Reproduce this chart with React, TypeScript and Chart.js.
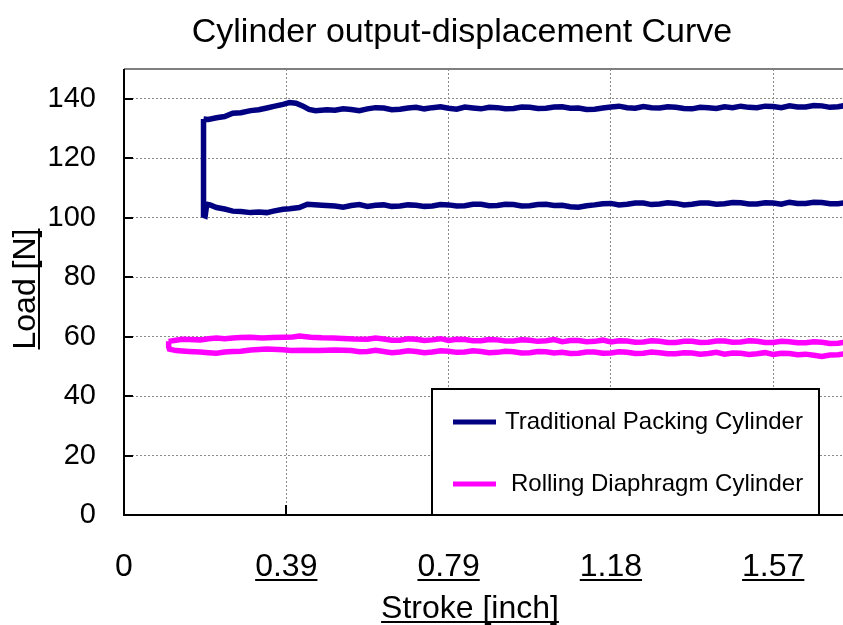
import { useEffect, useRef } from 'react';
import { Chart, registerables } from 'chart.js';

Chart.register(...registerables);

const chartTitle = 'Cylinder output-displacement Curve';
const xAxisTitle = 'Stroke [inch]';
const yAxisTitle = 'Load [N]';
const seriesNames = ['Traditional Packing Cylinder', 'Rolling Diaphragm Cylinder'];
const seriesColors = ['#000080', '#FF00FF'];

// stroke axis positions (mm) and their printed labels (inch)
const xTickPositions = [0, 10, 20, 30, 40];
const xTickLabels = ['0', '0.39', '0.79', '1.18', '1.57'];
const yTickValues = [0, 20, 40, 60, 80, 100, 120, 140];

// Traditional Packing Cylinder: upper (extend) branch
const tpUpperStroke = [4.9, 5.2, 5.7, 6.2, 6.7, 7.2, 7.8, 8.3, 8.8, 9.3, 9.8, 10.2, 10.6, 11.0, 11.4, 11.8, 12.5,
  13, 13.5, 14, 14.5, 15, 15.5, 16, 16.5, 17, 17.5, 18, 18.5, 19, 19.5, 20, 20.5, 21, 21.5, 22, 22.5, 23, 23.5, 24, 24.5,
  25, 25.5, 26, 26.5, 27, 27.5, 28, 28.5, 29, 29.5, 30, 30.5, 31, 31.5, 32, 32.5, 33, 33.5, 34, 34.5, 35, 35.5, 36, 36.5,
  37, 37.5, 38, 38.5, 39, 39.5, 40, 40.5, 41, 41.5, 42, 42.5, 43, 43.5, 44, 44.5, 45];
const tpUpperLoad = [133.2, 133.0, 133.6, 134.0, 135.1, 135.3, 136.0, 136.3, 136.9, 137.5, 138.1, 138.7, 138.5, 137.6, 136.4, 136.0, 136.3,
  136.1, 136.6, 136.4, 136.0, 136.6, 137.0, 136.9, 136.3, 136.5, 136.9, 137.1, 136.6, 137.0, 137.3, 136.8, 136.5, 137.2, 136.9, 136.6, 137.1, 137.0, 136.6, 136.7, 137.2,
  137.1, 136.7, 136.8, 137.2, 137.3, 136.8, 136.9, 136.4, 136.5, 136.9, 137.2, 137.5, 137.0, 136.8, 137.4, 137.0, 136.9, 137.3, 137.1, 136.7, 136.6, 137.1, 137.0, 136.7,
  137.3, 137.0, 137.5, 137.1, 137.0, 137.5, 137.4, 137.0, 137.6, 137.2, 137.2, 137.7, 137.6, 137.1, 137.3, 137.8, 137.5];
// Traditional Packing Cylinder: lower (return) branch
const tpLowerStroke = [4.9, 5.0, 5.1, 5.3, 5.7, 6.2, 6.7, 7.2, 7.8, 8.3, 8.8, 9.2, 9.8, 10.2, 10.8, 11.3, 12.2,
  13, 13.5, 14, 14.5, 15, 15.5, 16, 16.5, 17, 17.5, 18, 18.5, 19, 19.5, 20, 20.5, 21, 21.5, 22, 22.5, 23, 23.5, 24, 24.5,
  25, 25.5, 26, 26.5, 27, 27.5, 28, 28.5, 29, 29.5, 30, 30.5, 31, 31.5, 32, 32.5, 33, 33.5, 34, 34.5, 35, 35.5, 36, 36.5,
  37, 37.5, 38, 38.5, 39, 39.5, 40, 40.5, 41, 41.5, 42, 42.5, 43, 43.5, 44, 44.5, 45];
const tpLowerLoad = [100.8, 100.6, 104.5, 104.3, 103.4, 102.9, 102.2, 102.1, 101.7, 101.9, 101.7, 102.2, 102.8, 103.0, 103.4, 104.5, 104.2,
  103.9, 103.5, 104.1, 104.4, 103.8, 104.2, 104.3, 103.8, 103.9, 104.3, 104.2, 103.8, 103.9, 104.4, 104.3, 103.9, 104.0, 104.5, 104.5, 104.0, 104.1, 104.5, 104.4, 103.9,
  104.0, 104.4, 104.5, 104.1, 104.2, 103.7, 103.5, 104.0, 104.3, 104.7, 104.8, 104.3, 104.5, 104.9, 104.9, 104.4, 104.6, 105.0, 104.8, 104.3, 104.5, 104.9, 104.9, 104.5,
  104.7, 105.1, 105.0, 104.6, 104.6, 105.0, 104.9, 104.5, 105.2, 104.8, 104.8, 105.2, 105.1, 104.7, 104.7, 105.1, 105.0];

// Rolling Diaphragm Cylinder: upper branch
const rdUpperStroke = [2.75, 3.2, 3.6, 4.0, 4.7, 5.2, 5.7, 6.2, 6.7, 7.2, 7.8, 8.5, 9.2, 9.9, 10.4, 10.8, 11.5, 12.2, 12.9, 13.5, 14.2,
  15, 15.5, 16, 16.5, 17, 17.5, 18, 18.5, 19, 19.5, 20, 20.5, 21, 21.5, 22, 22.5, 23, 23.5, 24, 24.5,
  25, 25.5, 26, 26.5, 27, 27.5, 28, 28.5, 29, 29.5, 30, 30.5, 31, 31.5, 32, 32.5, 33, 33.5, 34, 34.5, 35, 35.5, 36, 36.5,
  37, 37.5, 38, 38.5, 39, 39.5, 40, 40.5, 41, 41.5, 42, 42.5, 43, 43.5, 44, 44.5, 45];
const rdUpperLoad = [58.4, 58.8, 59.1, 59.0, 58.9, 59.3, 59.5, 59.3, 59.5, 59.7, 59.8, 59.5, 59.7, 59.8, 59.9, 60.2, 59.8, 59.6, 59.5, 59.4, 59.2,
  59.1, 59.5, 59.2, 58.8, 58.8, 59.3, 59.1, 58.7, 58.9, 59.3, 58.7, 59.1, 59.0, 58.6, 58.6, 59.0, 58.9, 58.5, 58.5, 58.9,
  58.8, 58.4, 58.6, 59.0, 58.3, 58.7, 58.7, 58.3, 58.4, 58.8, 58.2, 58.6, 58.5, 58.1, 58.2, 58.6, 58.4, 58.0, 58.0, 58.4, 58.4, 58.0, 58.1, 58.5,
  58.5, 58.1, 58.2, 58.6, 58.4, 58.0, 58.0, 58.4, 58.3, 57.9, 57.9, 58.3, 58.1, 57.7, 57.8, 58.2, 58.0];
// Rolling Diaphragm Cylinder: lower branch
const rdLowerStroke = [2.75, 2.8, 3.2, 4.0, 4.7, 5.2, 5.7, 6.2, 6.7, 7.2, 7.8, 8.8, 9.8, 10.3, 11, 12, 13,
  14, 14.5, 15, 15.5, 16, 16.5, 17, 17.5, 18, 18.5, 19, 19.5, 20, 20.5, 21, 21.5, 22, 22.5, 23, 23.5, 24, 24.5,
  25, 25.5, 26, 26.5, 27, 27.5, 28, 28.5, 29, 29.5, 30, 30.5, 31, 31.5, 32, 32.5, 33, 33.5, 34, 34.5, 35, 35.5, 36, 36.5,
  37, 37.5, 38, 38.5, 39, 39.5, 40, 40.5, 41, 41.5, 42, 42.5, 43, 43.5, 44, 44.5, 45];
const rdLowerLoad = [56.6, 55.8, 55.3, 55.0, 54.8, 54.6, 54.4, 54.8, 55.0, 55.1, 55.5, 55.8, 55.6, 55.3, 55.4, 55.3, 55.5,
  55.3, 54.9, 55.0, 55.4, 55.0, 54.6, 54.8, 55.2, 55.0, 54.6, 54.8, 55.2, 55.1, 54.7, 54.8, 55.2, 55.0, 54.6, 54.7, 55.1, 54.9, 54.5,
  54.6, 55.0, 54.9, 54.5, 54.7, 54.3, 54.4, 54.8, 54.8, 54.4, 54.5, 54.9, 54.7, 54.3, 54.4, 54.8, 54.6, 54.2, 54.2, 54.6, 54.5, 54.1, 54.3, 54.7,
  54.1, 54.5, 54.4, 54.0, 54.2, 54.6, 54.0, 54.4, 54.3, 53.9, 54.1, 53.7, 53.3, 53.8, 53.9, 54.3, 54.0];

const FONT = '"Liberation Sans", Arial, Helvetica, sans-serif';

function buildLoop(us: number[], ul: number[], ls: number[], ll: number[]) {
  const up = us.map((x, i) => ({ x, y: ul[i] }));
  const low = ls.map((x, i) => ({ x, y: ll[i] })).reverse();
  return [...up, ...low, up[0]];
}

const decorPlugin = {
  id: 'decor',
  beforeDraw(chart: any) {
    const { ctx, width, height } = chart;
    ctx.save();
    ctx.fillStyle = '#ffffff';
    ctx.fillRect(0, 0, width, height);
    ctx.restore();
  },
  afterDraw(chart: any) {
    const { ctx, chartArea: a, scales } = chart;
    const xs = scales.x;
    const ys = scales.y;
    ctx.save();
    // top frame line
    ctx.strokeStyle = '#808080';
    ctx.lineWidth = 2;
    ctx.beginPath();
    ctx.moveTo(a.left, a.top);
    ctx.lineTo(a.right, a.top);
    ctx.stroke();
    // axes
    ctx.strokeStyle = '#000000';
    ctx.lineWidth = 2;
    ctx.beginPath();
    ctx.moveTo(a.left, a.top);
    ctx.lineTo(a.left, a.bottom);
    ctx.lineTo(a.right, a.bottom);
    ctx.stroke();
    // inward tick marks
    ctx.beginPath();
    yTickValues.forEach((v) => {
      const py = Math.round(ys.getPixelForValue(v));
      ctx.moveTo(a.left, py);
      ctx.lineTo(a.left + 9, py);
    });
    xTickPositions.forEach((v) => {
      const px = Math.round(xs.getPixelForValue(v));
      ctx.moveTo(px, a.bottom);
      ctx.lineTo(px, a.bottom - 10);
    });
    ctx.stroke();

    // x tick labels (underlined)
    ctx.fillStyle = '#000000';
    ctx.font = `32px ${FONT}`;
    ctx.textAlign = 'center';
    ctx.textBaseline = 'alphabetic';
    const labelBase = a.bottom + 61;
    xTickPositions.forEach((v, i) => {
      const px = xs.getPixelForValue(v);
      const t = xTickLabels[i];
      ctx.fillText(t, px, labelBase);
      if (i > 0) {
        const w = ctx.measureText(t).width;
        ctx.fillRect(px - w / 2, labelBase + 3, w, 2);
      }
    });

    // x axis title
    ctx.font = `32px ${FONT}`;
    const tx = 470;
    const tb = 618;
    ctx.fillText(xAxisTitle, tx, tb);
    const tw = ctx.measureText(xAxisTitle).width;
    ctx.fillRect(tx - tw / 2, tb + 3, tw, 2);

    // y axis title (rotated, underlined)
    ctx.save();
    ctx.translate(35, (a.top + a.bottom) / 2 - 3);
    ctx.rotate(-Math.PI / 2);
    ctx.font = `32px ${FONT}`;
    ctx.textAlign = 'center';
    ctx.fillText(yAxisTitle, 0, 0);
    const yw = ctx.measureText(yAxisTitle).width;
    ctx.fillRect(-yw / 2, 3, yw, 2);
    ctx.restore();

    // chart title
    ctx.font = `34px ${FONT}`;
    ctx.textAlign = 'center';
    ctx.fillText(chartTitle, 462, 42);

    // legend box
    const lx = 432, ly = 389, lw = 387, lh = a.bottom - 389;
    ctx.fillStyle = '#ffffff';
    ctx.fillRect(lx, ly, lw, lh);
    ctx.strokeStyle = '#000000';
    ctx.lineWidth = 2;
    ctx.strokeRect(lx, ly, lw, lh);
    const rows = [422, 484];
    const textX = [505, 511];
    chart.data.datasets.forEach((ds: any, i: number) => {
      ctx.strokeStyle = ds.borderColor;
      ctx.lineWidth = 5;
      ctx.beginPath();
      ctx.moveTo(453, rows[i]);
      ctx.lineTo(496, rows[i]);
      ctx.stroke();
      ctx.fillStyle = '#000000';
      ctx.font = `24px ${FONT}`;
      ctx.textAlign = 'left';
      ctx.textBaseline = 'middle';
      ctx.fillText(ds.label, textX[i], rows[i]);
    });
    ctx.restore();
  },
};

export default function App() {
  const ref = useRef<HTMLCanvasElement | null>(null);
  useEffect(() => {
    if (!ref.current) return;
    const chart = new Chart(ref.current, {
      type: 'scatter',
      data: {
        datasets: [
          {
            label: seriesNames[0],
            data: buildLoop(tpUpperStroke, tpUpperLoad, tpLowerStroke, tpLowerLoad),
            showLine: true,
            borderColor: seriesColors[0],
            backgroundColor: seriesColors[0],
            borderWidth: 5.5,
            pointRadius: 0,
            tension: 0,
          },
          {
            label: seriesNames[1],
            data: buildLoop(rdUpperStroke, rdUpperLoad, rdLowerStroke, rdLowerLoad),
            showLine: true,
            borderColor: seriesColors[1],
            backgroundColor: seriesColors[1],
            borderWidth: 5.5,
            pointRadius: 0,
            tension: 0,
          },
        ],
      },
      options: {
        responsive: false,
        animation: false,
        events: [],
        layout: { padding: { top: 69, left: 0, right: 0, bottom: 0 } },
        plugins: {
          legend: { display: false },
          title: { display: false },
          tooltip: { enabled: false },
        },
        scales: {
          x: {
            type: 'linear',
            min: 0,
            max: 44.3,
            afterBuildTicks: (scale: any) => {
              scale.ticks = xTickPositions.map((v) => ({ value: v }));
            },
            afterFit: (scale: any) => {
              scale.height = 110;
            },
            ticks: { display: false },
            grid: {
              color: '#8a8a8a',
              lineWidth: 1,
              drawTicks: false,
            },
            border: { display: false, dash: [2, 2] },
          },
          y: {
            type: 'linear',
            min: 0,
            max: 150,
            afterBuildTicks: (scale: any) => {
              scale.ticks = yTickValues.map((v) => ({ value: v }));
            },
            afterFit: (scale: any) => {
              scale.width = 124;
            },
            ticks: {
              padding: 28,
              color: '#000000',
              font: { family: FONT, size: 29 },
            },
            grid: {
              color: '#8a8a8a',
              lineWidth: 1,
              drawTicks: false,
            },
            border: { display: false, dash: [2, 2] },
          },
        },
      },
      plugins: [decorPlugin],
    });
    return () => chart.destroy();
  }, []);
  return (
    <div style={{ position: 'fixed', left: 0, top: 0, width: 843, height: 625, background: '#fff' }}>
      <canvas ref={ref} width={843} height={625} style={{ display: 'block' }} />
    </div>
  );
}
